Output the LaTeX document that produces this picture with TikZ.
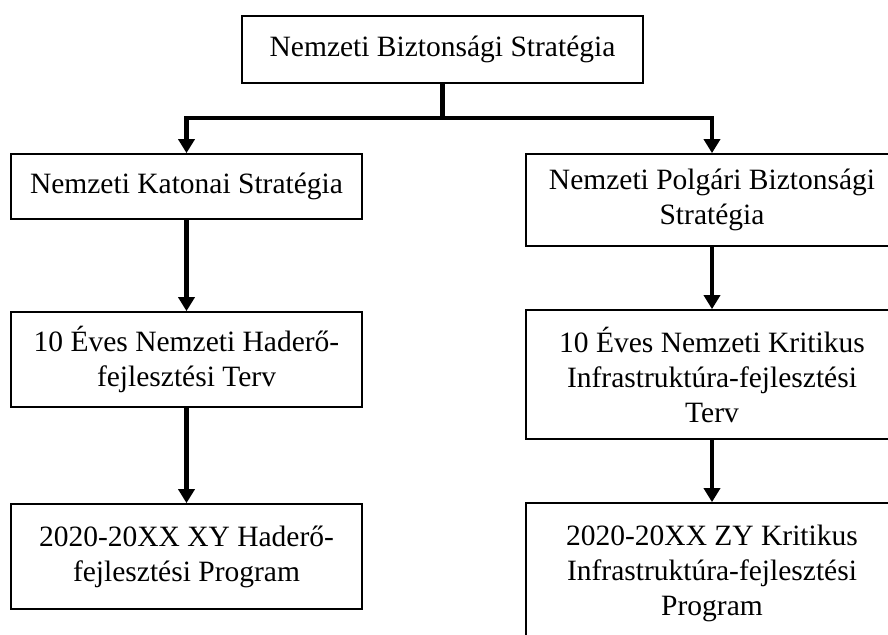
\documentclass[tikz,border=0pt]{standalone}
\usepackage{fontspec}
\setmainfont{Liberation Serif}
\usetikzlibrary{arrows.meta}
\begin{document}
\begin{tikzpicture}[x=1pt,y=-1pt,
  box/.style={draw=black, line width=1.7pt, align=center, inner sep=0pt,
    font=\fontsize{29.5}{35}\selectfont, anchor=center},
  conn/.style={line width=4.5pt, line join=miter, -{Triangle[width=16pt,length=14pt]}},
  plainline/.style={line width=4.5pt}]
\useasboundingbox (0,0) rectangle (888,634);
\clip (0,0) rectangle (888,634);
\node[box, minimum width=401pt, minimum height=67pt] (top) at (442.5,49.5) {Nemzeti Biztonsági Stratégia};
\node[box, minimum width=351pt, minimum height=65pt] (L1) at (186.5,186.5) {Nemzeti Katonai Stratégia};
\node[box, minimum width=372pt, minimum height=92pt] (R1) at (712,200) {Nemzeti Polgári Biztonsági\\Stratégia};
\node[box, minimum width=351pt, minimum height=95pt] (L2) at (186.5,359.5) {10 Éves Nemzeti Haderő-\\fejlesztési Terv};
\node[box, minimum width=372pt, minimum height=129pt] (R2) at (712,374.5) {10 Éves Nemzeti Kritikus\\Infrastruktúra-fejlesztési\\Terv};
\node[box, minimum width=351pt, minimum height=105pt] (L3) at (186.5,556.5) {2020-20XX XY Haderő-\\fejlesztési Program};
\node[box, minimum width=372pt, minimum height=140pt] (R3) at (712,573) {2020-20XX ZY Kritikus\\Infrastruktúra-fejlesztési\\Program};
\coordinate (split) at (442.5,118);
\draw[plainline] (top.south) -- (split);
\draw[conn] (split) -| (L1.north);
\draw[conn] (split) -| (R1.north);
\draw[conn] (L1.south) -- (L2.north);
\draw[conn] (L2.south) -- (L3.north);
\draw[conn] (R1.south) -- (R2.north);
\draw[conn] (R2.south) -- (R3.north);
\end{tikzpicture}
\end{document}
